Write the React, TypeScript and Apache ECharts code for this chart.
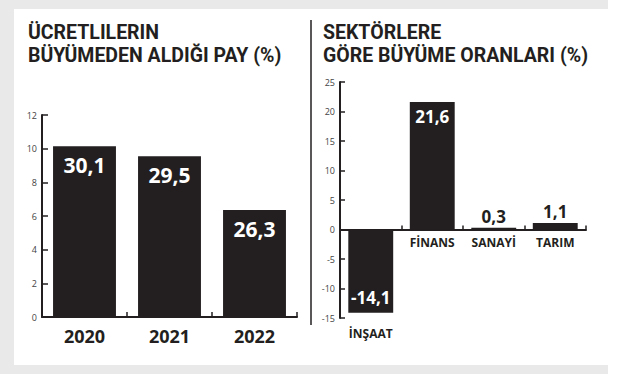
import React, { useEffect, useRef } from "react";
import * as echarts from "echarts";

const leftTitle = ["ÜCRETLILERIN", "BÜYÜMEDEN ALDIĞI PAY (%)"];
const rightTitle = ["SEKTÖRLERE", "GÖRE BÜYÜME ORANLARI (%)"];

const wageYears = ["2020", "2021", "2022"];
// shares printed on the bars
const wageShare = [30.1, 29.5, 26.3];
// bar heights as drawn against the 0–12 axis
const wageBarHeights = [10.15, 9.55, 6.35];

const sectors = ["İNŞAAT", "FİNANS", "SANAYİ", "TARIM"];
const sectorGrowth = [-14.1, 21.6, 0.3, 1.1];

const INK = "#231f20";
const FONT = "'Open Sans', sans-serif";
const TITLE_FONT = "Roboto, sans-serif";

const fmt = (v: number) => v.toFixed(1).replace(".", ",");

export default function App() {
  const ref = useRef<HTMLDivElement>(null);
  useEffect(() => {
    document.body.style.margin = "0";
    const chart = echarts.init(ref.current!, null, { renderer: "svg" });
    const option: any = {
      animation: false,
      backgroundColor: "#ffffff",
      graphic: [
        { type: "rect", z: -100, shape: { x: 0, y: 0, width: 608, height: 374 }, style: { fill: "#e9e9ea" } },
        { type: "rect", z: -99, shape: { x: 14, y: 9, width: 594, height: 356 }, style: { fill: "#ffffff" } },
        { type: "line", z: 5, shape: { x1: 311, y1: 20, x2: 311, y2: 325 }, style: { stroke: INK, lineWidth: 1.5 } },
        {
          type: "text", x: 28, y: 21, z: 5,
          style: { text: leftTitle.join("\n"), font: `bold 19.5px ${TITLE_FONT}`, fill: INK, lineHeight: 23, textVerticalAlign: "top" },
        },
        {
          type: "text", x: 323, y: 21, z: 5,
          style: { text: rightTitle.join("\n"), font: `bold 19.5px ${TITLE_FONT}`, fill: INK, lineHeight: 23, textVerticalAlign: "top" },
        },
      ],
      grid: [
        { left: 42, top: 115, width: 255, height: 202 },
        { left: 340, top: 82, width: 246, height: 236 },
      ],
      xAxis: [
        {
          type: "category", gridIndex: 0, data: wageYears,
          axisLine: { lineStyle: { color: INK, width: 2 } },
          axisTick: { show: true, inside: true, length: 5, lineStyle: { color: INK, width: 1.5 } },
          axisLabel: { fontSize: 18, fontWeight: "bold", color: INK, margin: 10, fontFamily: FONT },
        },
        {
          type: "category", gridIndex: 1, data: sectors,
          axisLine: { onZero: true, lineStyle: { color: INK, width: 2 } },
          axisTick: { show: true, inside: true, length: 4, lineStyle: { color: INK, width: 1.5 } },
          axisLabel: { show: false },
        },
      ],
      yAxis: [
        {
          type: "value", gridIndex: 0, min: 0, max: 12, interval: 2,
          splitLine: { show: false },
          axisLine: { show: true, lineStyle: { color: INK, width: 2 } },
          axisTick: { show: true, inside: true, length: 6, lineStyle: { color: INK, width: 1.5 } },
          axisLabel: { fontSize: 9, color: "#444", margin: 5, fontFamily: FONT },
        },
        {
          type: "value", gridIndex: 1, min: -15, max: 25, interval: 5,
          splitLine: { show: false },
          axisLine: { show: true, onZero: false, lineStyle: { color: INK, width: 2 } },
          axisTick: { show: true, inside: true, length: 5, lineStyle: { color: INK, width: 1.5 } },
          axisLabel: { fontSize: 9, color: "#444", margin: 5, fontFamily: FONT },
        },
      ],
      series: [
        {
          type: "bar", xAxisIndex: 0, yAxisIndex: 0, barWidth: "74%",
          data: wageBarHeights,
          itemStyle: { color: INK },
          label: {
            show: true, position: "insideTop", distance: 8,
            formatter: (p: any) => fmt(wageShare[p.dataIndex]),
            color: "#fff", fontSize: 21, fontWeight: "bold", fontFamily: FONT,
          },
        },
        {
          type: "bar", xAxisIndex: 1, yAxisIndex: 1, barWidth: "73%", barGap: "-100%",
          itemStyle: { color: INK },
          data: sectorGrowth.map((v) => ({
            value: v,
            label:
              v < 0
                ? { position: "insideBottom", distance: 7, color: "#fff" }
                : v > 5
                ? { position: "insideTop", distance: 6, color: "#fff" }
                : { position: "top", distance: 3, color: INK },
          })),
          label: {
            show: true, fontSize: 17, fontWeight: "bold", fontFamily: FONT,
            formatter: (p: any) => fmt(p.value),
          },
        },
        {
          // category names: under the bar for negatives, under the zero line otherwise
          type: "bar", xAxisIndex: 1, yAxisIndex: 1, barWidth: "73%", barGap: "-100%", silent: true,
          itemStyle: { color: "rgba(0,0,0,0)" },
          data: sectorGrowth.map((v) => ({
            value: Math.min(v, 0),
            label: { distance: v < 0 ? 15 : 7 },
          })),
          label: {
            show: true, position: "bottom",
            formatter: (p: any) => sectors[p.dataIndex],
            fontSize: 12, fontWeight: "bold", color: INK, fontFamily: FONT,
          },
        },
      ],
    };
    chart.setOption(option);
    return () => chart.dispose();
  }, []);
  return <div ref={ref} style={{ width: 618, height: 374 }} />;
}
